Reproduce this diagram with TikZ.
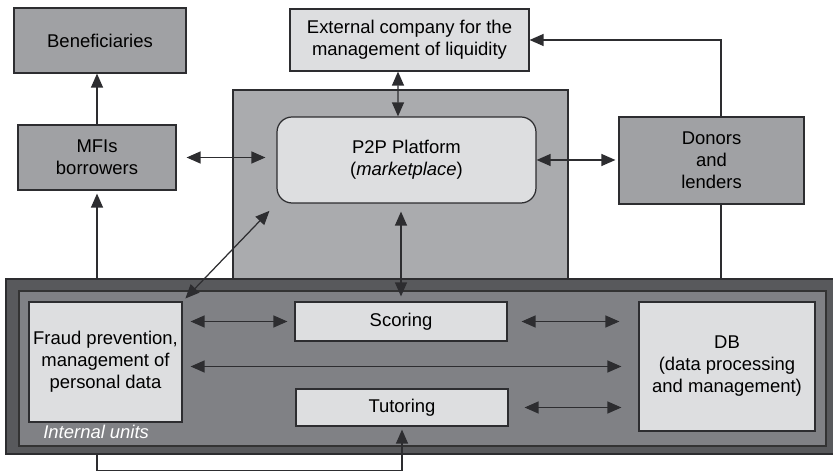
\documentclass[tikz,border=0pt]{standalone}
\usepackage{fontspec}
\setmainfont{Liberation Sans}
\usetikzlibrary{arrows.meta, positioning}

\definecolor{midgray}{RGB}{160,161,164}
\definecolor{areagray}{RGB}{170,171,174}
\definecolor{palegray}{RGB}{221,222,224}
\definecolor{darkgray}{RGB}{88,89,92}
\definecolor{innergray}{RGB}{128,129,133}
\definecolor{linegray}{RGB}{45,45,48}

\tikzstyle{arrow} = [line width=0.7pt, draw=linegray, ->]
\tikzstyle{biarrow} = [line width=0.7pt, draw=linegray, <->]
\tikzstyle{link} = [line width=0.7pt, draw=linegray]
\tikzstyle{actor} = [rectangle, draw=linegray, line width=0.7pt, fill=midgray, align=center, inner sep=0pt]
\tikzstyle{unit} = [rectangle, draw=linegray, line width=0.7pt, fill=palegray, align=center, inner sep=0pt]

\begin{document}
\begin{tikzpicture}[x=0.02cm, y=-0.02cm, >={Triangle[length=2.8mm,width=2.4mm]}, font=\fontsize{10.5}{12.5}\selectfont]

\useasboundingbox (0,0) rectangle (833,472);

% Background areas
\node (platarea) [rectangle, draw=linegray, line width=0.7pt, fill=areagray, minimum width=6.70cm, minimum height=3.78cm] at (400.5,184.5) {};
\node (units) [rectangle, draw=linegray, line width=0.7pt, fill=darkgray, minimum width=16.56cm, minimum height=3.50cm] at (420,366.5) {};
\node (unitsin) [rectangle, draw=black!80, line width=0.7pt, fill=innergray, minimum width=16.14cm, minimum height=3.10cm] at (422.5,368.5) {};

% External actors
\node (benef) [actor, minimum width=3.44cm, minimum height=1.30cm] at (100,40.5) {Beneficiaries};
\node (mfi) [actor, minimum width=3.16cm, minimum height=1.30cm] at (97,157.5) {MFIs\\borrowers};
\node (ext) [unit, minimum width=4.78cm, minimum height=1.24cm] at (409.5,40) {External company for the\\management of liquidity};
\node (p2p) [unit, rounded corners=0.3cm, minimum width=5.18cm, minimum height=1.72cm] at (406.5,160) {P2P Platform\\(\textit{marketplace})};
\node (donors) [actor, minimum width=3.70cm, minimum height=1.74cm] at (711.5,160.5) {Donors\\and\\lenders};

% Internal units
\node (fraud) [unit, minimum width=3.06cm, minimum height=2.40cm] at (105.5,362) {Fraud prevention,\\management of\\personal data};
\node (scoring) [unit, minimum width=4.24cm, minimum height=0.78cm] at (401,321.5) {Scoring};
\node (tutoring) [unit, minimum width=4.24cm, minimum height=0.74cm] at (402,407.5) {Tutoring};
\node (db) [unit, minimum width=3.52cm, minimum height=2.58cm] at (727,366.5) {DB\\(data processing\\and management)};
\node (unitslabel) [anchor=base west, inner sep=0pt, text=white, font=\fontsize{10.5}{12.5}\selectfont\itshape] at (43,439) {Internal units};

\coordinate (dtop) at ([xshift=0.19cm]donors.north);
\coordinate (dbot) at ([xshift=0.19cm]donors.south);

% Relationships
\draw [arrow] (mfi.north) -- (mfi.north |- benef.south);
\draw [biarrow, shorten <=0.2cm, shorten >=0.22cm] (mfi.east) -- (mfi.east -| p2p.west);
\draw [biarrow, shorten >=0.06cm] (p2p.east) -- (p2p.east -| donors.west);
\draw [biarrow] ([xshift=-0.23cm]ext.south) -- ([xshift=-0.17cm]p2p.north);
\draw [arrow] (dtop) |- (ext.east);
\draw [link] (dbot) -- (dbot |- units.north);
\draw [arrow, shorten >=0.06cm] (mfi.south |- units.north) -- (mfi.south);
\draw [biarrow, shorten <=0.16cm, shorten >=0.1cm] (scoring.north |- p2p.south) -- (scoring.north);
\draw [biarrow, shorten <=0.2cm, shorten >=0.08cm] (p2p.south west) -- (fraud.north east);
\draw [arrow, shorten >=0.06cm] (mfi.south |- units.south) -- ++(0,16) -| (tutoring.south);

% Between internal units
\draw [biarrow, shorten <=0.16cm, shorten >=0.14cm] (fraud.east |- scoring.west) -- (scoring.west);
\draw [biarrow, shorten <=0.28cm, shorten >=0.38cm] (scoring.east) -- (scoring.east -| db.west);
\draw [biarrow, shorten <=0.16cm, shorten >=0.34cm] (fraud.east |- db.west) -- (db.west);
\draw [biarrow, shorten <=0.32cm, shorten >=0.34cm] (tutoring.east) -- (tutoring.east -| db.west);

\end{tikzpicture}
\end{document}
